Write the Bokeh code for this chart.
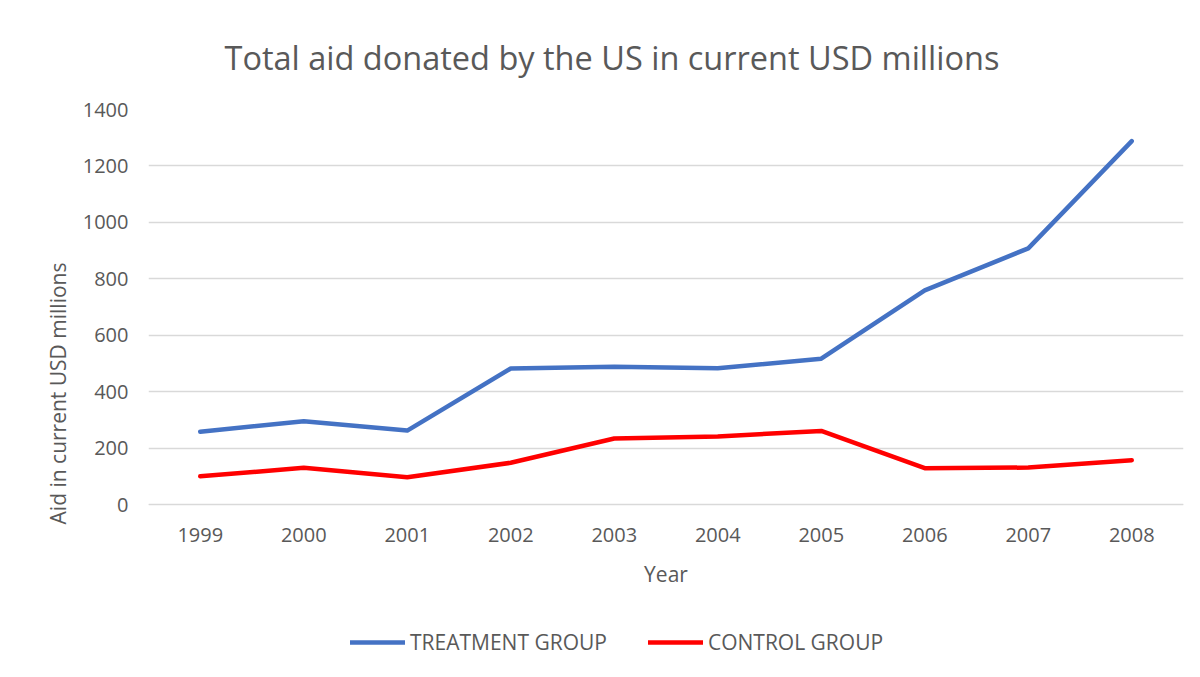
from bokeh.plotting import figure
from bokeh.models import Legend, LegendItem, Range1d, FixedTicker
from bokeh.embed import file_html
from bokeh.resources import INLINE

years = ["1999", "2000", "2001", "2002", "2003", "2004", "2005", "2006", "2007", "2008"]
treatment = [258, 295, 262, 482, 488, 483, 517, 759, 908, 1288]
control = [100, 130, 97, 148, 234, 241, 261, 129, 131, 157]
y_ticks = [0, 200, 400, 600, 800, 1000, 1200, 1400]

FONT = "Open Sans"
GREY = "#595959"

p = figure(x_range=years, y_range=Range1d(-613, 1400),
           frame_width=1035, frame_height=568,
           output_backend="svg", toolbar_location=None,
           min_border_left=148, min_border_right=17, min_border_top=109, min_border_bottom=0,
           title="Total aid donated by the US in current USD millions")

p.title.text_font = FONT
p.title.text_font_size = "32.5px"
p.title.text_font_style = "normal"
p.title.text_color = GREY
p.title.align = "left"
p.title.offset = 76
p.title.standoff = 60

r1 = p.line(years, treatment, line_color="#4472C4", line_width=4.5, line_cap="round", line_join="round")
r2 = p.line(years, control, line_color="#FF0000", line_width=4.5, line_cap="round", line_join="round")

p.outline_line_color = None
p.xgrid.grid_line_color = None
p.ygrid.grid_line_color = "#d9d9d9"
p.ygrid.grid_line_width = 1.3
p.yaxis.ticker = FixedTicker(ticks=y_ticks)
p.yaxis.bounds = (0, 1400)

for ax in (p.xaxis[0], p.yaxis[0]):
    ax.major_tick_line_color = None
    ax.minor_tick_line_color = None
    ax.major_label_text_font = FONT
    ax.major_label_text_font_size = "20px"
    ax.major_label_text_color = GREY
    ax.axis_label_text_font = FONT
    ax.axis_label_text_font_size = "21px"
    ax.axis_label_text_color = GREY
    ax.axis_label_text_font_style = "normal"

p.yaxis.axis_line_color = None
p.xaxis.axis_line_color = "#d9d9d9"
p.xaxis.fixed_location = 0
p.yaxis.axis_label = "Aid in current USD millions"
p.xaxis.axis_label = "Year"
p.yaxis.major_label_standoff = 14
p.xaxis.major_label_standoff = 17
p.xaxis.axis_label_standoff = 15
p.yaxis.axis_label_standoff = 8

legend = Legend(items=[LegendItem(label="TREATMENT GROUP", renderers=[r1]),
                       LegendItem(label="CONTROL GROUP", renderers=[r2])],
                orientation="horizontal", location=(202, 21),
                label_text_font=FONT, label_text_font_size="21px", label_text_color=GREY,
                glyph_width=55, label_standoff=5, spacing=41, padding=0, margin=0,
                border_line_color=None, background_fill_alpha=0)
p.add_layout(legend, "center")

open("out.html", "w").write(file_html(p, INLINE))
